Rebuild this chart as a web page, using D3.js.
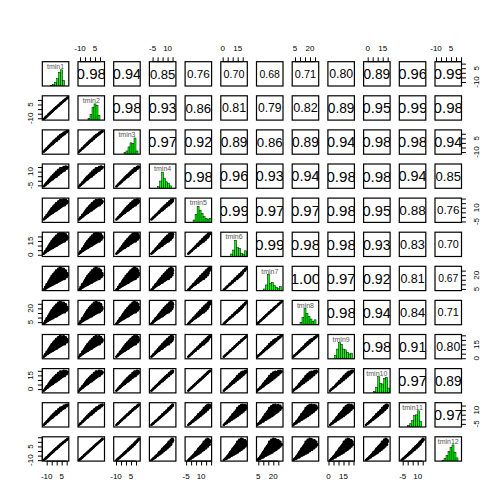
<!DOCTYPE html>
<html><head><meta charset="utf-8">
<script src="https://cdn.jsdelivr.net/npm/d3@7"></script>
<style>body{margin:0;background:#fff}svg{display:block}</style>
</head><body>
<script>
const varNames = ["tmin1","tmin2","tmin3","tmin4","tmin5","tmin6","tmin7","tmin8","tmin9","tmin10","tmin11","tmin12"];

const tmin1 = [-13,-12,-11.5,-11,-10,-10,-9,-8.5,-8,-7.5,-7,-6,-6,-5,-5,-4,-4,-3.5,-3,-2.5,-2,-1.5,-1,-0.5,0,0.5,1,1.5,2,2.5,3,3.5,4,4.5,5,6,6.5,7,8,8.5,9,10,10.5,11];
const tmin2 = [-11.0,-10.0,-9.4,-9.0,-7.9,-7.8,-7.0,-6.3,-5.7,-5.5,-4.7,-4.0,-3.6,-2.9,-2.6,-2.2,-1.8,-1.0,-1.0,-0.3,0.5,0.5,1.3,2.0,1.7,2.5,3.3,4.0,3.7,4.5,5.3,6.0,5.7,6.5,7.3,7.7,8.5,9.2,9.5,10.3,11.0,11.5,12.2,12.5];
const tmin3 = [-9.6,-8.6,-7.8,-7.7,-6.4,-6.0,-5.8,-4.6,-3.8,-4.2,-2.6,-2.6,-1.4,-1.4,-0.2,-1.2,0.0,1.4,0.2,1.6,3.0,1.8,3.2,4.6,2.4,3.8,5.2,6.6,4.4,5.9,7.3,8.5,6.4,7.8,9.2,8.4,9.8,11.0,9.6,11.0,12.2,11.6,12.8,12.8];
const tmin4 = [-6.2,-5.2,-4.1,-4.4,-2.8,-2.0,-2.6,-0.7,0.4,-0.9,1.8,0.8,3.2,2.2,4.6,1.6,4.0,6.3,3.4,5.7,8.0,5.1,7.4,9.7,4.8,7.1,9.4,11.7,6.8,9.3,11.6,13.5,8.8,11.1,13.4,10.8,13.1,15.0,11.2,13.5,15.4,13.2,15.1,14.6];
const tmin5 = [-2.8,-1.8,-0.4,-1.1,0.8,2.0,0.6,3.2,4.6,2.4,6.2,4.2,7.8,5.8,9.4,4.4,8.0,11.2,6.6,9.8,13.0,8.4,11.6,14.8,7.2,10.4,13.6,16.8,9.2,12.7,15.9,18.5,11.2,14.4,17.6,13.2,16.4,19.0,12.8,16.0,18.6,14.8,17.4,16.4];
const tmin6 = [1.1,2.1,3.9,2.7,4.9,6.6,4.3,7.7,9.4,6.2,11.3,8.1,13.1,9.9,14.9,7.6,12.6,16.8,10.3,14.5,18.8,12.2,16.4,20.7,10.0,14.2,18.4,22.7,12.0,16.6,20.8,24.3,14.0,18.2,22.4,16.0,20.2,23.6,14.6,18.9,22.3,16.6,20.0,18.5];
const tmin7 = [4,5,7,5.5,8,10,7,11,13,9,15,11,17,13,19,10,16,21,13,18,23,15,20,25,12,17,22,27,14,19.5,24.5,28.5,16,21,26,18,23,27,16,21,25,18,22,20];
const tmin8 = [3.3,4.3,6.3,4.8,7.3,9.2,6.4,10.2,12.2,8.3,14.1,10.3,16.1,12.3,18.0,9.4,15.2,20.0,12.4,17.2,22.0,14.3,19.2,24.0,11.5,16.3,21.2,26.0,13.5,18.8,23.6,27.5,15.5,20.3,25.2,17.5,22.3,26.2,15.7,20.5,24.4,17.7,21.5,19.6];
const tmin9 = [1.6,2.6,4.3,3.2,5.4,7.0,4.8,8.1,9.8,6.7,11.6,8.6,13.4,10.4,15.2,8.2,13.0,17.1,10.8,14.9,19.0,12.7,16.8,20.9,10.6,14.7,18.8,22.9,12.6,17.1,21.2,24.5,14.6,18.7,22.8,16.6,20.7,24.0,15.4,19.5,22.8,17.4,20.7,19.2];
const tmin10 = [-1.7,-0.7,0.7,0.1,1.9,3.0,1.8,4.2,5.6,3.6,7.1,5.4,8.7,6.9,10.2,5.7,9.0,12.0,7.8,10.8,13.8,9.6,12.6,15.5,8.6,11.6,14.6,17.5,10.6,13.9,16.8,19.3,12.6,15.6,18.6,14.6,17.6,20.0,14.4,17.4,19.8,16.4,18.8,18.0];
const tmin11 = [-6.2,-5.2,-4.3,-4.4,-3.0,-2.4,-2.5,-1.0,-0.1,-0.9,1.2,0.8,2.4,2.0,3.7,1.9,3.6,5.4,3.5,5.2,7.0,5.1,6.9,8.6,5.4,7.1,8.9,10.6,7.4,9.3,11.0,12.5,9.4,11.1,12.9,11.4,13.1,14.6,12.2,14.0,15.5,14.2,15.7,15.5];
const tmin12 = [-10.1,-9.1,-8.5,-8.2,-7.1,-6.9,-6.2,-5.4,-4.8,-4.7,-3.7,-3.1,-2.7,-2.1,-1.6,-1.4,-0.9,0.0,-0.2,0.6,1.5,1.3,2.2,3.0,2.5,3.3,4.2,5.0,4.5,5.4,6.2,7.0,6.5,7.3,8.2,8.5,9.3,10.1,10.1,11.0,11.8,12.1,12.9,13.2];
const series = [tmin1,tmin2,tmin3,tmin4,tmin5,tmin6,tmin7,tmin8,tmin9,tmin10,tmin11,tmin12];

// axis ranges of each panel
const axisDomains = [[-14.4,12.1],[-12,14.5],[-12.3,14.2],[-8.2,18.3],[-6,20.5],[-1.9,24.6],[3.2,29.7],[2.2,28.7],[-0.6,25.9],[-4.1,22.4],[-8.4,18.1],[-11,15.5]];
const labelTicks = [[-10,5],[-10,5],[-10,5],[-5,10],[-5,10],[0,15],[5,20],[5,20],[0,15],[0,15],[-5,10],[-10,5]];

// correlations, upper triangle, row i lists columns i+1..12
const corr = [
 [0.98,0.94,0.85,0.76,0.70,0.68,0.71,0.80,0.89,0.96,0.99],
 [0.98,0.93,0.86,0.81,0.79,0.82,0.89,0.95,0.99,0.98],
 [0.97,0.92,0.89,0.86,0.89,0.94,0.98,0.98,0.94],
 [0.98,0.96,0.93,0.94,0.98,0.98,0.94,0.85],
 [0.99,0.97,0.97,0.98,0.95,0.88,0.76],
 [0.99,0.98,0.98,0.93,0.83,0.70],
 [1.00,0.97,0.92,0.81,0.67],
 [0.98,0.94,0.84,0.71],
 [0.98,0.91,0.80],
 [0.97,0.89],
 [0.97]
];

// histogram bins on the diagonal (relative heights)
const histStart = [-6,-2,-2,0,2,8,10,10,6,6,0,-4];
const histStep  = [2,2,2,2,2,2,2,2,2,2,2,2];
const histCounts = [
 [4,10,22,45,85,100,35],
 [10,35,80,100,90,30],
 [10,20,45,70,65,100,20],
 [10,45,100,60,40,30,15],
 [15,50,100,75,55,35,25,20,25],
 [15,40,100,55,50,20,15,35],
 [10,35,100,45,50,30,20,15,25],
 [15,45,100,70,50,35,20,30],
 [20,60,100,90,60,55,40,30,35],
 [10,35,100,60,55,90,95,30],
 [10,20,40,70,75,100,35],
 [5,15,35,60,85,100,55,20]
];

const W = 504, H = 504, n = 12;
const left0 = 42.3, top0 = 61.7, cw = 26.5, ch = 24.3, stepX = 35.7, stepY = 34.1;
const font = "'Liberation Sans', Arial, sans-serif";

const svg = d3.select("body").append("svg").attr("width", W).attr("height", H)
  .style("font-family", font);
const defs = svg.append("defs");

const xs = axisDomains.map((d, j) => d3.scaleLinear().domain(d).range([left0 + j*stepX, left0 + j*stepX + cw]));
const ys = axisDomains.map((d, i) => d3.scaleLinear().domain(d).range([top0 + i*stepY + ch, top0 + i*stepY]));

for (let i = 0; i < n; i++) {
  for (let j = 0; j < n; j++) {
    const x0 = left0 + j*stepX, y0 = top0 + i*stepY;
    const id = `clip-${i}-${j}`;
    defs.append("clipPath").attr("id", id).append("rect")
      .attr("x", x0).attr("y", y0).attr("width", cw).attr("height", ch);
    const g = svg.append("g").attr("clip-path", `url(#${id})`);
    if (i > j) {
      const pts = series[j].map((v, k) => [xs[j](v), ys[i](series[i][k])]);
      const hull = d3.polygonHull(pts);
      g.append("path").attr("d", "M" + hull.join("L") + "Z")
        .attr("fill", "#000").attr("stroke", "#000").attr("stroke-width", 1.2).attr("stroke-linejoin", "round");
      g.selectAll("circle").data(pts).join("circle")
        .attr("cx", d => d[0]).attr("cy", d => d[1])
        .attr("r", 1.3).attr("fill", "#000");
    } else if (i < j) {
      const r = corr[i][j - i - 1];
      g.append("text").attr("x", x0 + cw/2).attr("y", y0 + ch/2)
        .attr("dy", "0.36em").attr("text-anchor", "middle")
        .attr("font-size", (15.4 * r).toFixed(2) + "px").attr("fill", "#000")
        .text(r.toFixed(2));
    } else {
      const counts = histCounts[i];
      const mx = d3.max(counts);
      const hy = d3.scaleLinear().domain([0, 1.5]).range([y0 + ch, y0]);
      const bins = counts.map((c, k) => ({a: histStart[i] + k*histStep[i], b: histStart[i] + (k+1)*histStep[i], c: c/mx}));
      g.selectAll("rect").data(bins).join("rect")
        .attr("x", d => xs[i](d.a)).attr("width", d => xs[i](d.b) - xs[i](d.a))
        .attr("y", d => hy(d.c)).attr("height", d => hy(0) - hy(d.c))
        .attr("fill", "#00ff00").attr("stroke", "#000").attr("stroke-width", 0.5);
      g.append("text").attr("x", x0 + cw/2).attr("y", y0 + 4.8).attr("dy", "0.35em")
        .attr("text-anchor", "middle").attr("font-size", "7px").attr("fill", "#555")
        .text(varNames[i]);
    }
    svg.append("rect").attr("x", x0).attr("y", y0).attr("width", cw).attr("height", ch)
      .attr("fill", "none").attr("stroke", "#000").attr("stroke-width", 1.2);
  }
}

function ticksOf(k) {
  const d = axisDomains[k];
  return d3.range(Math.ceil(d[0]/5)*5, d[1] + 1e-9, 5);
}
const tickLen = 4.4, axisFont = "8px";

for (let j = 0; j < n; j++) {
  const tv = ticksOf(j);
  if (j % 2 === 1) {
    const y = top0;
    svg.append("g").attr("transform", `translate(0,${y})`)
      .call(d3.axisTop(xs[j]).tickValues(tv).tickSize(tickLen).tickSizeOuter(0).tickFormat(""))
      .call(g => { g.select(".domain").remove(); g.selectAll("line").attr("stroke", "#000"); });
    svg.append("line").attr("x1", xs[j](tv[0])).attr("x2", xs[j](tv[tv.length-1])).attr("y1", y).attr("y2", y).attr("stroke", "#000");
    svg.selectAll(null).data(labelTicks[j]).join("text")
      .attr("x", d => xs[j](d)).attr("y", y - 13.7).attr("dy", "0.35em")
      .attr("text-anchor", "middle").attr("font-size", axisFont).text(d => d);
  } else {
    const y = top0 + (n-1)*stepY + ch;
    svg.append("g").attr("transform", `translate(0,${y})`)
      .call(d3.axisBottom(xs[j]).tickValues(tv).tickSize(tickLen).tickSizeOuter(0).tickFormat(""))
      .call(g => { g.select(".domain").remove(); g.selectAll("line").attr("stroke", "#000"); });
    svg.append("line").attr("x1", xs[j](tv[0])).attr("x2", xs[j](tv[tv.length-1])).attr("y1", y).attr("y2", y).attr("stroke", "#000");
    svg.selectAll(null).data(labelTicks[j]).join("text")
      .attr("x", d => xs[j](d)).attr("y", y + 15.3).attr("dy", "0.35em")
      .attr("text-anchor", "middle").attr("font-size", axisFont).text(d => d);
  }
}
for (let i = 0; i < n; i++) {
  const tv = ticksOf(i);
  if (i % 2 === 1) {
    const x = left0;
    svg.append("g").attr("transform", `translate(${x},0)`)
      .call(d3.axisLeft(ys[i]).tickValues(tv).tickSize(tickLen).tickSizeOuter(0).tickFormat(""))
      .call(g => { g.select(".domain").remove(); g.selectAll("line").attr("stroke", "#000"); });
    svg.append("line").attr("y1", ys[i](tv[0])).attr("y2", ys[i](tv[tv.length-1])).attr("x1", x).attr("x2", x).attr("stroke", "#000");
    svg.selectAll(null).data(labelTicks[i]).join("text")
      .attr("transform", d => `translate(${x - 12.3},${ys[i](d)}) rotate(-90)`)
      .attr("dy", "0.35em").attr("text-anchor", "middle").attr("font-size", axisFont).text(d => d);
  } else {
    const x = left0 + (n-1)*stepX + cw;
    svg.append("g").attr("transform", `translate(${x},0)`)
      .call(d3.axisRight(ys[i]).tickValues(tv).tickSize(tickLen).tickSizeOuter(0).tickFormat(""))
      .call(g => { g.select(".domain").remove(); g.selectAll("line").attr("stroke", "#000"); });
    svg.append("line").attr("y1", ys[i](tv[0])).attr("y2", ys[i](tv[tv.length-1])).attr("x1", x).attr("x2", x).attr("stroke", "#000");
    svg.selectAll(null).data(labelTicks[i]).join("text")
      .attr("transform", d => `translate(${x + 14.2},${ys[i](d)}) rotate(-90)`)
      .attr("dy", "0.35em").attr("text-anchor", "middle").attr("font-size", axisFont).text(d => d);
  }
}
</script>
</body></html>
